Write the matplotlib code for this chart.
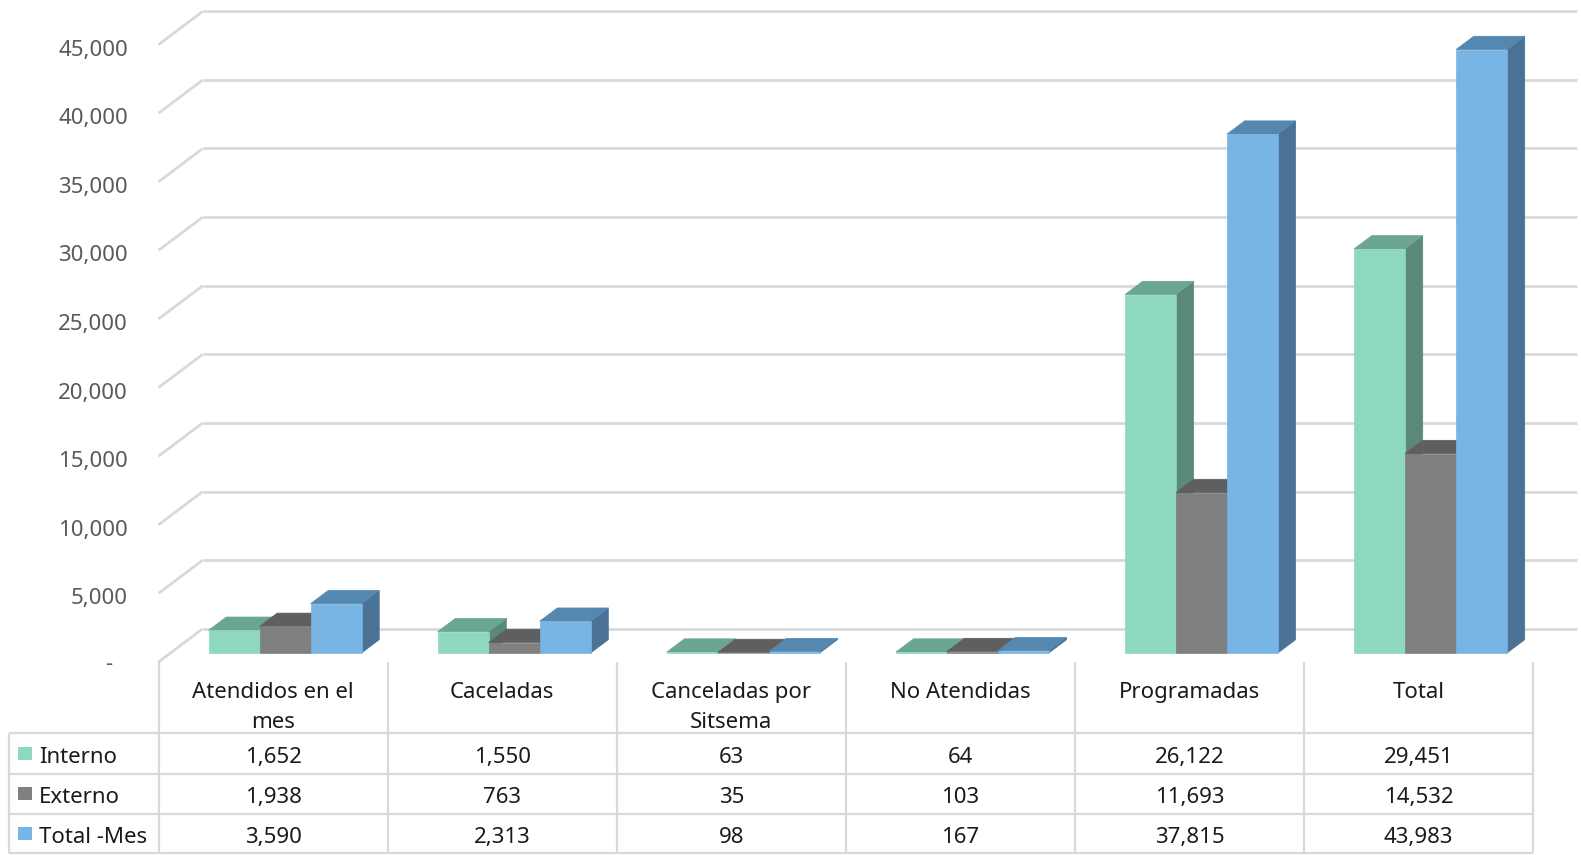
import matplotlib
matplotlib.use("Agg")
import matplotlib.pyplot as plt
from matplotlib.patches import Polygon, Rectangle

# ---------------- data ----------------
categories = ["Atendidos en el\nmes", "Caceladas", "Canceladas por\nSitsema",
              "No Atendidas", "Programadas", "Total"]
series_names = ["Interno", "Externo", "Total -Mes"]
interno = [1652, 1550, 63, 64, 26122, 29451]
externo = [1938, 763, 35, 103, 11693, 14532]
total_mes = [3590, 2313, 98, 167, 37815, 43983]
y_ticks = [0, 5000, 10000, 15000, 20000, 25000, 30000, 35000, 40000, 45000]
y_tick_labels = ["-", "5,000", "10,000", "15,000", "20,000", "25,000",
                 "30,000", "35,000", "40,000", "45,000"]

series_values = [interno, externo, total_mes]
front_colors = ["#8ed8bf", "#808080", "#78b5e4"]
top_colors = ["#6aa692", "#5f5f5f", "#5588b0"]
side_colors = ["#5a8a77", "#505050", "#4a7294"]

plt.rcParams['font.family'] = ['Noto Sans', 'DejaVu Sans']

W_PX, H_PX = 1581, 855
fig = plt.figure(figsize=(W_PX / 100, H_PX / 100), dpi=100)
fig.patch.set_facecolor("white")

# layout of the oblique 3D box (pixels)
X0, CAT_W = 158.5, 229.1
Y0, PX_PER_UNIT = 662.0, 68.6 / 5000
DEPTH_DX, DEPTH_DY = 44.3, 33.3
TXT_DY = 4  # vertical text nudge (px)

ax = fig.add_axes([0, 0, 1, 1])
ax.set_xlim(-X0 / CAT_W, (W_PX - X0) / CAT_W)
ax.set_ylim(-(H_PX - Y0) / PX_PER_UNIT, Y0 / PX_PER_UNIT)
ax.axis("off")

du = DEPTH_DX / CAT_W
dv = DEPTH_DY / PX_PER_UNIT
n = len(categories)
grid_color = "#d9d9d9"

# gridlines: left wall diagonal + back wall horizontal
for t in y_ticks:
    ax.plot([0, du], [t, t + dv], color=grid_color, lw=2, zorder=1,
            solid_capstyle="butt")
    ax.plot([du, n + du], [t + dv, t + dv], color=grid_color, lw=2, zorder=1,
            solid_capstyle="butt")

def to_fig(xp, yp):
    return xp / W_PX, 1 - yp / H_PX

# y tick labels at the front plane
for t, lab in zip(y_ticks, y_tick_labels):
    ypx = Y0 - t * PX_PER_UNIT + 1.5 + TXT_DY
    if lab == "-":
        ax.text(*to_fig(109, ypx - 3), lab, transform=fig.transFigure,
                ha="center", va="center", fontsize=16, color="#595959")
    else:
        ax.text(*to_fig(128, ypx), lab, transform=fig.transFigure,
                ha="right", va="center", fontsize=16, color="#595959")

# bars
bw = 51 / CAT_W
z0, z1 = 0.27, 0.67
dz = z1 - z0
zo = 3
for c in range(n):
    for s, vals in enumerate(series_values):
        v = vals[c]
        left = c + 0.5 - 1.5 * bw + s * bw + z0 * du
        base = z0 * dv
        top = base + v
        side = Polygon([(left + bw, base), (left + bw + dz * du, base + dz * dv),
                        (left + bw + dz * du, top + dz * dv), (left + bw, top)],
                       closed=True, facecolor=side_colors[s],
                       edgecolor=side_colors[s], lw=0.5, zorder=zo)
        topf = Polygon([(left, top), (left + bw, top),
                        (left + bw + dz * du, top + dz * dv), (left + dz * du, top + dz * dv)],
                       closed=True, facecolor=top_colors[s],
                       edgecolor=top_colors[s], lw=0.5, zorder=zo + 1)
        front = Rectangle((left, base), bw, v, facecolor=front_colors[s],
                          edgecolor=front_colors[s], lw=0.5, zorder=zo + 2)
        ax.add_patch(side)
        ax.add_patch(topf)
        ax.add_patch(front)
        zo += 3

# ---------------- data table ----------------
tcol = "#d9d9d9"
col_edges = [X0 + i * CAT_W for i in range(n + 1)]
table_left = 9
header_top = 662
row_lines = [733, 773.5, 814, 853]

def fline(xs, ys):
    fx, fy = zip(*[to_fig(x, y) for x, y in zip(xs, ys)])
    ax.plot(fx, fy, transform=fig.transFigure, color=tcol, lw=1.6,
            solid_capstyle="butt", zorder=50)

for yl in row_lines:
    fline([table_left, col_edges[-1]], [yl, yl])
fline([table_left, table_left], [row_lines[0], row_lines[-1]])
for xe in col_edges:
    fline([xe, xe], [header_top, row_lines[-1]])

txt_color = "#1a1a1a"
for c, cat in enumerate(categories):
    cx = (col_edges[c] + col_edges[c + 1]) / 2
    for i, line in enumerate(cat.split("\n")):
        ax.text(*to_fig(cx, 688 + TXT_DY + i * 31), line, transform=fig.transFigure,
                ha="center", va="center", fontsize=16, color=txt_color)

for r, (name, vals) in enumerate(zip(series_names, series_values)):
    cy = (row_lines[r] + row_lines[r + 1]) / 2
    sx, sy = to_fig(18, cy + 6.5)
    ax.add_patch(Rectangle((sx, sy), 14 / W_PX, 13 / H_PX,
                           transform=fig.transFigure, facecolor=front_colors[r],
                           edgecolor="none", zorder=60))
    ax.text(*to_fig(39, cy + TXT_DY), name, transform=fig.transFigure,
            ha="left", va="center", fontsize=16, color=txt_color)
    for c, v in enumerate(vals):
        cx = (col_edges[c] + col_edges[c + 1]) / 2
        ax.text(*to_fig(cx, cy + TXT_DY), f"{v:,}", transform=fig.transFigure,
                ha="center", va="center", fontsize=16, color=txt_color)

fig.savefig("out.png", dpi=100, facecolor="white")
